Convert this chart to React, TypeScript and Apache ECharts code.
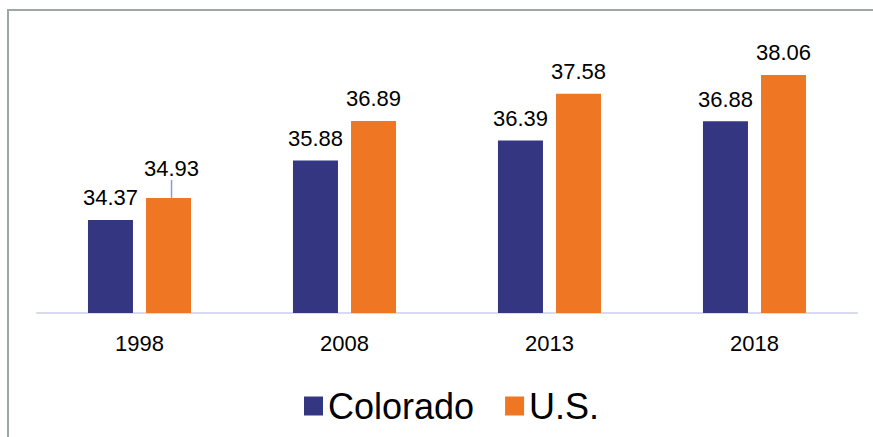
import React, { useEffect, useRef } from "react";
import * as echarts from "echarts";

const categories = ["1998", "2008", "2013", "2018"];
const coloradoValues = [34.37, 35.88, 36.39, 36.88];
const usValues = [34.93, 36.89, 37.58, 38.06];
const seriesNames = ["Colorado", "U.S."];

const FONT = "'Liberation Sans', Arial, sans-serif";
const LEADER = { color: "#9296e0", width: 1.5 };

export default function App() {
  const ref = useRef<HTMLDivElement>(null);
  useEffect(() => {
    document.body.style.margin = "0";
    const chart = echarts.init(ref.current!, null, { renderer: "svg" });
    const labelStyle = {
      show: true,
      position: "top",
      distance: 11,
      color: "#000",
      fontSize: 22,
      fontFamily: FONT,
    };
    chart.setOption({
      animation: false,
      textStyle: { fontFamily: FONT },
      graphic: [
        {
          type: "polyline",
          shape: { points: [[8, 437], [8, 10], [873, 10]] },
          style: { stroke: "#a0a5a6", lineWidth: 2, fill: null },
          silent: true,
        },
      ],
      grid: { left: 37, right: 16, top: 38, bottom: 124 },
      legend: {
        left: 299,
        top: 381,
        itemWidth: 19,
        itemHeight: 19,
        itemGap: 31,
        icon: "rect",
        textStyle: { fontSize: 36, color: "#000", fontFamily: FONT, padding: [0, 0, 0, 0], lineHeight: 40 },
        data: seriesNames,
      },
      xAxis: {
        type: "category",
        data: categories,
        axisLine: { lineStyle: { color: "#d9d9ef", width: 2 } },
        axisTick: { show: false },
        axisLabel: { color: "#000", fontSize: 22, fontFamily: FONT, margin: 19 },
      },
      yAxis: {
        type: "value",
        min: 32,
        max: 39,
        show: false,
        splitLine: { show: false },
      },
      series: [
        {
          name: seriesNames[0],
          type: "bar",
          data: coloradoValues,
          barWidth: 45,
          barGap: "29%",
          itemStyle: { color: "#353681" },
          label: labelStyle,
        },
        {
          name: seriesNames[1],
          type: "bar",
          data: usValues.map((v, i) =>
            i === 0 ? { value: v, labelLine: { show: true, lineStyle: LEADER } } : v
          ),
          barWidth: 45,
          itemStyle: { color: "#ef7623" },
          label: labelStyle,
          labelLine: { show: false, lineStyle: LEADER },
          labelLayout: (p: any) => (p.dataIndex === 0 ? { dx: 3, dy: -7 } : {}),
        },
      ],
    });
    return () => chart.dispose();
  }, []);
  return <div ref={ref} style={{ width: 873, height: 437 }} />;
}
